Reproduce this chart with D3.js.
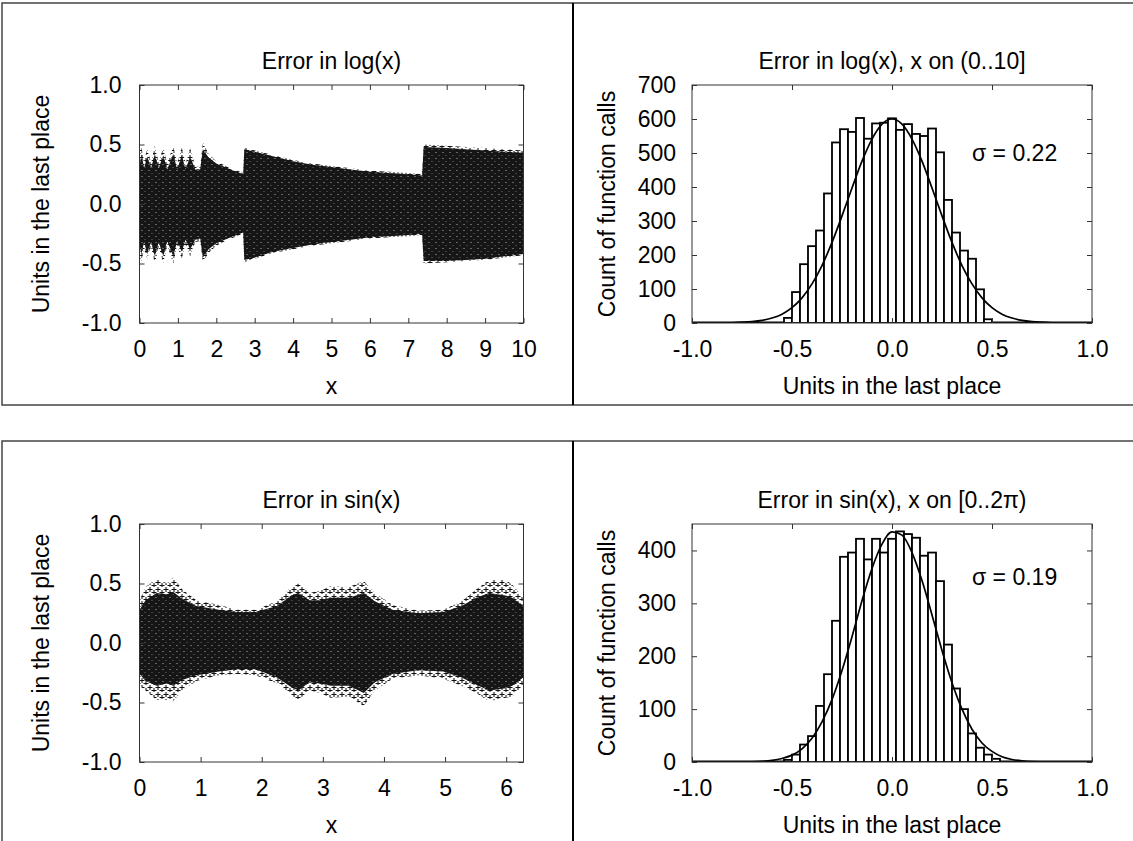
<!DOCTYPE html>
<html lang="en">
<head>
<meta charset="UTF-8">
<script src="https://cdn.jsdelivr.net/npm/d3@7"></script>
<style>
  body { margin: 0; background: #fff; }
  svg text { font-family: "Liberation Sans", Arial, sans-serif; fill: #000; }
</style>
</head>
<body>
<div id="fig"></div>
<script>
const width = 1133, height = 841;

// ---- data ----
// histogram bins are 0.04 wide, centred on multiples of 0.04
const logBinCentres = [-0.52,-0.48,-0.44,-0.40,-0.36,-0.32,-0.28,-0.24,-0.20,-0.16,-0.12,-0.08,-0.04,
                        0.00, 0.04, 0.08, 0.12, 0.16, 0.20, 0.24, 0.28, 0.32, 0.36, 0.40, 0.44, 0.48];
const logCounts = [15, 91, 173, 226, 272, 381, 531, 570, 562, 603, 542, 587, 589,
                   602, 568, 585, 556, 550, 572, 502, 362, 266, 213, 189, 99, 11];

const sinBinCentres = [-0.52,-0.48,-0.44,-0.40,-0.36,-0.32,-0.28,-0.24,-0.20,-0.16,-0.12,-0.08,-0.04,
                        0.00, 0.04, 0.08, 0.12, 0.16, 0.20, 0.24, 0.28, 0.32, 0.36, 0.40, 0.44, 0.48, 0.52];
const sinCounts = [4, 14, 33, 49, 106, 166, 267, 388, 396, 422, 383, 422, 396,
                   422, 436, 431, 424, 390, 396, 342, 222, 139, 100, 54, 27, 14, 6];

// fitted normal curves
const curveX = [-1,-0.9,-0.8,-0.7,-0.65,-0.6,-0.55,-0.5,-0.45,-0.4,-0.35,-0.3,-0.25,-0.2,-0.15,-0.1,-0.05,
                0,0.05,0.1,0.15,0.2,0.25,0.3,0.35,0.4,0.45,0.5,0.55,0.6,0.65,0.7,0.8,0.9,1];
const logCurve = [0,0.1,0.8,3.8,7.6,14.6,26,45,74,115,169,237,315,397,476,541,585,
                  600,585,541,476,397,315,237,169,115,74,45,26,14.6,7.6,3.8,0.8,0.1,0];
const sinCurve = [0,0,0.1,0.5,1.3,3,6.6,13,25,45,76,118,173,237,305,366,412,
                  435,429,396,343,278,211,150,100,62,36,20,10,4.8,2.2,0.9,0.1,0,0];

// scatter clouds: [x, sparse top, dense top, dense bottom, sparse bottom]
const logBand = [
  [0.00,0.44,0.32,-0.34,-0.46],[0.05,0.48,0.42,-0.42,-0.48],[0.12,0.36,0.30,-0.32,-0.38],
  [0.20,0.47,0.40,-0.42,-0.46],[0.30,0.35,0.30,-0.32,-0.36],[0.40,0.49,0.42,-0.44,-0.50],
  [0.50,0.35,0.30,-0.32,-0.36],[0.62,0.48,0.41,-0.44,-0.50],[0.72,0.34,0.29,-0.31,-0.35],
  [0.88,0.49,0.42,-0.44,-0.50],[0.98,0.34,0.29,-0.31,-0.35],[1.10,0.48,0.41,-0.40,-0.46],
  [1.20,0.34,0.29,-0.30,-0.34],[1.32,0.47,0.40,-0.38,-0.44],[1.45,0.32,0.29,-0.30,-0.32],
  [1.58,0.31,0.29,-0.29,-0.31],[1.65,0.52,0.46,-0.45,-0.49],[1.80,0.42,0.39,-0.38,-0.41],
  [2.00,0.36,0.34,-0.33,-0.35],[2.30,0.31,0.30,-0.29,-0.30],[2.70,0.26,0.25,-0.24,-0.25],
  [2.73,0.48,0.46,-0.47,-0.49],[3.00,0.45,0.44,-0.45,-0.46],[3.50,0.41,0.40,-0.40,-0.41],
  [4.00,0.37,0.36,-0.37,-0.38],[4.50,0.34,0.33,-0.34,-0.35],[5.00,0.32,0.31,-0.32,-0.33],
  [5.50,0.30,0.29,-0.30,-0.31],[6.00,0.28,0.27,-0.28,-0.29],[6.50,0.27,0.26,-0.27,-0.28],
  [7.00,0.26,0.25,-0.26,-0.27],[7.36,0.25,0.24,-0.25,-0.26],[7.40,0.50,0.48,-0.48,-0.50],
  [8.00,0.49,0.47,-0.48,-0.49],[8.50,0.48,0.46,-0.47,-0.48],[9.00,0.47,0.45,-0.46,-0.47],
  [9.50,0.46,0.44,-0.44,-0.45],[10.0,0.45,0.43,-0.42,-0.43]
];
const sinBand = [
  [0.00,0.36,0.28,-0.26,-0.36],[0.10,0.47,0.36,-0.32,-0.40],[0.28,0.54,0.42,-0.36,-0.48],
  [0.45,0.50,0.41,-0.34,-0.48],[0.55,0.55,0.43,-0.36,-0.49],[0.70,0.45,0.37,-0.31,-0.40],
  [0.93,0.36,0.31,-0.27,-0.32],[1.30,0.32,0.28,-0.24,-0.27],[1.60,0.28,0.26,-0.22,-0.26],
  [1.90,0.28,0.26,-0.22,-0.27],[2.25,0.35,0.31,-0.29,-0.34],[2.48,0.47,0.40,-0.37,-0.44],
  [2.60,0.50,0.42,-0.40,-0.48],[2.78,0.42,0.36,-0.33,-0.40],[2.95,0.44,0.36,-0.34,-0.42],
  [3.13,0.48,0.38,-0.36,-0.46],[3.43,0.47,0.38,-0.36,-0.45],[3.67,0.52,0.42,-0.42,-0.53],
  [3.85,0.42,0.35,-0.33,-0.40],[4.14,0.32,0.28,-0.26,-0.30],[4.56,0.27,0.25,-0.23,-0.27],
  [4.97,0.28,0.26,-0.24,-0.30],[5.27,0.35,0.31,-0.29,-0.36],[5.51,0.45,0.38,-0.35,-0.42],
  [5.72,0.53,0.42,-0.40,-0.49],[5.99,0.53,0.40,-0.38,-0.46],[6.10,0.49,0.38,-0.36,-0.45],
  [6.28,0.38,0.31,-0.29,-0.36]
];

// ticks
const logXTicks = [0,1,2,3,4,5,6,7,8,9,10];
const sinXTicks = [0,1,2,3,4,5,6];
const errTicks = [-1,-0.5,0,0.5,1];
const logCountTicks = [0,100,200,300,400,500,600,700];
const sinCountTicks = [0,100,200,300,400];
const sigmaLabels = [{x:0.4, y:500, text:"σ = 0.22"}, {x:0.4, y:350, text:"σ = 0.19"}];

const fontSize = 23;
const fmt1 = d => d.toFixed(1);
const fmt0 = d => String(d);

const svg = d3.select("#fig").append("svg")
    .attr("width", width)
    .attr("height", height);

// textures standing in for thousands of overlapping "+" markers
const defs = svg.append("defs");
const dense = defs.append("pattern").attr("id","dense")
    .attr("patternUnits","userSpaceOnUse").attr("width",7).attr("height",6);
dense.append("rect").attr("width",7).attr("height",6).attr("fill","#161616");
dense.append("rect").attr("x",2).attr("y",1).attr("width",1).attr("height",1).attr("fill","#b0b0b0");
dense.append("rect").attr("x",5).attr("y",4).attr("width",1).attr("height",1).attr("fill","#6a6a6a");
const sparse = defs.append("pattern").attr("id","sparse")
    .attr("patternUnits","userSpaceOnUse").attr("width",8).attr("height",7);
sparse.append("path").attr("d","M0,2.5h5M2.5,0v5M4,5.5h5M6.5,3v5M-4,5.5h5")
    .attr("stroke","#111").attr("stroke-width",1.1);

// panel frames
const frame = svg.append("g").attr("fill","none").attr("stroke","#444").attr("stroke-width",1.5);
frame.append("rect").attr("x",2).attr("y",3).attr("width",1140).attr("height",402);
frame.append("rect").attr("x",2).attr("y",441).attr("width",1140).attr("height",420);
frame.append("line").attr("x1",573).attr("x2",573).attr("y1",3).attr("y2",405).attr("stroke","#000").attr("stroke-width",2);
frame.append("line").attr("x1",573).attr("x2",573).attr("y1",441).attr("y2",height).attr("stroke","#000").attr("stroke-width",2);

function plotFrame(p) {
    const x = d3.scaleLinear().domain(p.xDom).range([0, p.w]);
    const y = d3.scaleLinear().domain(p.yDom).range([p.h, 0]);
    const g = svg.append("g").attr("transform", `translate(${p.left},${p.top})`);
    const clip = "clip-" + p.id;
    g.append("clipPath").attr("id", clip).append("rect").attr("width", p.w).attr("height", p.h);
    const body = g.append("g").attr("clip-path", `url(#${clip})`);

    const styleAxis = a => {
        a.select(".domain").remove();
        a.attr("font-size", fontSize).attr("font-family", null);
        a.selectAll("line").attr("stroke", "#333");
    };
    g.append("g").attr("transform", `translate(0,${p.h})`)
        .call(d3.axisBottom(x).tickValues(p.xTicks).tickSize(-5).tickPadding(18).tickFormat(p.xFmt))
        .call(styleAxis);
    g.append("g")
        .call(d3.axisTop(x).tickValues(p.xTicks).tickSize(-5).tickFormat(""))
        .call(styleAxis);
    g.append("g")
        .call(d3.axisLeft(y).tickValues(p.yTicks).tickSize(-5).tickPadding(p.yPad).tickFormat(p.yFmt))
        .call(styleAxis);
    g.append("g").attr("transform", `translate(${p.w},0)`)
        .call(d3.axisRight(y).tickValues(p.yTicks).tickSize(-5).tickFormat(""))
        .call(styleAxis);

    g.append("text").attr("x", p.w / 2).attr("y", -16)
        .attr("text-anchor", "middle").attr("font-size", fontSize).text(p.title);
    g.append("text").attr("x", p.w / 2).attr("y", p.h + 71)
        .attr("text-anchor", "middle").attr("font-size", fontSize).text(p.xLabel);
    g.append("text")
        .attr("transform", `translate(${-p.yLabelOffset},${p.h / 2}) rotate(-90)`)
        .attr("text-anchor", "middle").attr("font-size", fontSize).text(p.yLabel);

    return {g, body, x, y, p};
}

function drawScatter(pl, band) {
    const {body, x, y} = pl;
    body.append("path").datum(band)
        .attr("fill", "url(#sparse)")
        .attr("d", d3.area().x(d => x(d[0])).y0(d => y(d[4])).y1(d => y(d[1])));
    body.append("path").datum(band)
        .attr("fill", "url(#dense)")
        .attr("d", d3.area().x(d => x(d[0])).y0(d => y(d[3])).y1(d => y(d[2])));
    pl.g.append("rect").attr("width", pl.p.w).attr("height", pl.p.h)
        .attr("fill", "none").attr("stroke", "#333").attr("stroke-width", 1);
}

function drawHist(pl, centres, counts, curve, label) {
    const {body, x, y, g} = pl;
    const half = 0.02;
    body.append("line")
        .attr("x1", x(-1)).attr("x2", x(1)).attr("y1", y(0)).attr("y2", y(0))
        .attr("stroke", "#000").attr("stroke-width", 3);
    body.selectAll("rect.bar").data(centres).join("rect")
        .attr("class", "bar")
        .attr("x", d => x(d - half))
        .attr("width", d => x(d + half) - x(d - half))
        .attr("y", (d, i) => y(counts[i]))
        .attr("height", (d, i) => y(0) - y(counts[i]))
        .attr("fill", "#fff").attr("stroke", "#000").attr("stroke-width", 1.8);
    body.append("path").datum(curveX)
        .attr("fill", "none").attr("stroke", "#000").attr("stroke-width", 1.7)
        .attr("d", d3.line().curve(d3.curveMonotoneX).x(d => x(d)).y((d, i) => y(curve[i])));
    g.append("text").attr("x", x(label.x)).attr("y", y(label.y)).attr("dy", "0.35em")
        .attr("font-size", fontSize).text(label.text);
    g.append("rect").attr("width", pl.p.w).attr("height", pl.p.h)
        .attr("fill", "none").attr("stroke", "#333").attr("stroke-width", 1);
}

const logScatter = plotFrame({id:"ls", left:139.5, top:85, w:384, h:238, xDom:[0,10], yDom:[-1,1],
    xTicks:logXTicks, yTicks:errTicks, xFmt:fmt0, yFmt:fmt1, yPad:18, title:"Error in log(x)",
    xLabel:"x", yLabel:"Units in the last place", yLabelOffset:91});
drawScatter(logScatter, logBand);

const logHist = plotFrame({id:"lh", left:692, top:85, w:400, h:238, xDom:[-1,1], yDom:[0,700],
    xTicks:errTicks, yTicks:logCountTicks, xFmt:fmt1, yFmt:fmt0, yPad:16, title:"Error in log(x), x on (0..10]",
    xLabel:"Units in the last place", yLabel:"Count of function calls", yLabelOffset:77});
drawHist(logHist, logBinCentres, logCounts, logCurve, sigmaLabels[0]);

const sinScatter = plotFrame({id:"ss", left:139.5, top:524, w:384, h:238, xDom:[0,2*Math.PI], yDom:[-1,1],
    xTicks:sinXTicks, yTicks:errTicks, xFmt:fmt0, yFmt:fmt1, yPad:18, title:"Error in sin(x)",
    xLabel:"x", yLabel:"Units in the last place", yLabelOffset:91});
drawScatter(sinScatter, sinBand);

const sinHist = plotFrame({id:"sh", left:692, top:524, w:400, h:238, xDom:[-1,1], yDom:[0,450],
    xTicks:errTicks, yTicks:sinCountTicks, xFmt:fmt1, yFmt:fmt0, yPad:16, title:"Error in sin(x), x on [0..2π)",
    xLabel:"Units in the last place", yLabel:"Count of function calls", yLabelOffset:77});
drawHist(sinHist, sinBinCentres, sinCounts, sinCurve, sigmaLabels[1]);
</script>
</body>
</html>
